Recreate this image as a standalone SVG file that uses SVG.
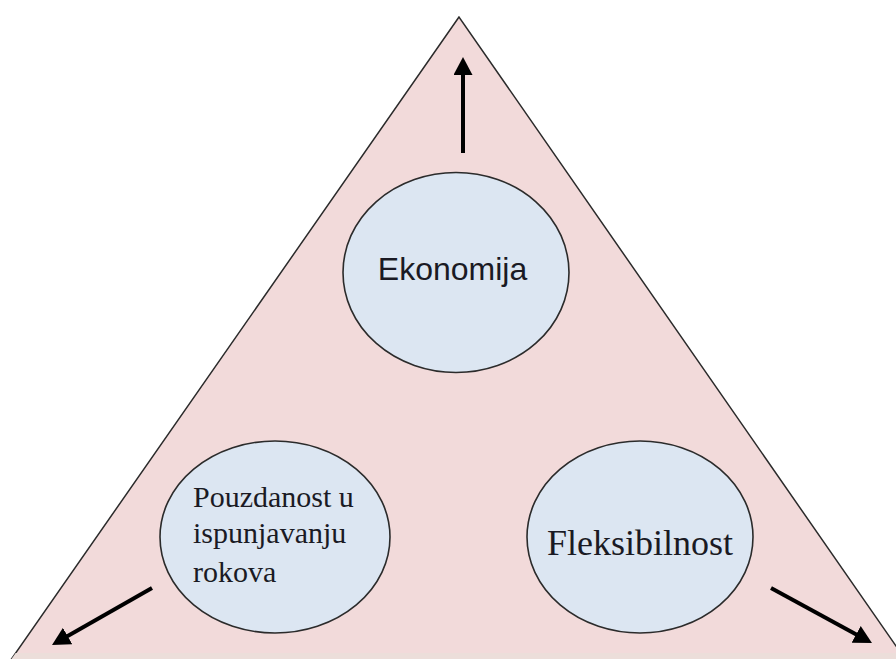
<svg xmlns="http://www.w3.org/2000/svg" width="896" height="659" viewBox="0 0 896 659">
<style>
.node ellipse{fill:#dce6f2;stroke:#2b2b2b;stroke-width:1.6}
.sans{font-family:"Liberation Sans",Arial,sans-serif;fill:#1a1a24}
.serif{font-family:"Liberation Serif","Times New Roman",serif;fill:#1a1a24}
.conn line{stroke:#000;stroke-width:4}
</style>
<defs>
<marker id="ah" markerUnits="userSpaceOnUse" markerWidth="18" markerHeight="19" viewBox="0 0 18 19" refX="8" refY="9.5" orient="auto">
<path d="M0,0 L18,9.5 L0,19 z" fill="#000"/>
</marker>
</defs>
<rect width="896" height="659" fill="#ffffff"/>
<g id="triangle">
<polygon points="459,17 11.5,659 905,659" fill="#f2dada" stroke="#2b2b2b" stroke-width="1.5"/>
<polygon points="15.7,653 900.8,653 905,659 11.5,659" fill="#ecdeda"/>
</g>
<g id="connectors" class="conn">
<line x1="463" y1="153" x2="463" y2="67" marker-end="url(#ah)"/>
<line x1="152" y1="588" x2="60.7" y2="640" marker-end="url(#ah)"/>
<line x1="771" y1="588" x2="863.2" y2="638.2" marker-end="url(#ah)"/>
</g>
<g id="ekonomija" class="node">
<ellipse cx="456" cy="272.5" rx="113" ry="100"/>
<text x="452.5" y="280" font-size="32" text-anchor="middle" class="sans">Ekonomija</text>
</g>
<g id="pouzdanost" class="node">
<ellipse cx="275" cy="537" rx="115" ry="96"/>
<text x="193" y="507" font-size="30" class="serif">Pouzdanost u</text>
<text x="193" y="543" font-size="30" class="serif">ispunjavanju</text>
<text x="193" y="582" font-size="30" class="serif">rokova</text>
</g>
<g id="fleksibilnost" class="node">
<ellipse cx="640" cy="537" rx="113" ry="96"/>
<text x="640" y="555" font-size="36" text-anchor="middle" class="serif">Fleksibilnost</text>
</g>
</svg>
